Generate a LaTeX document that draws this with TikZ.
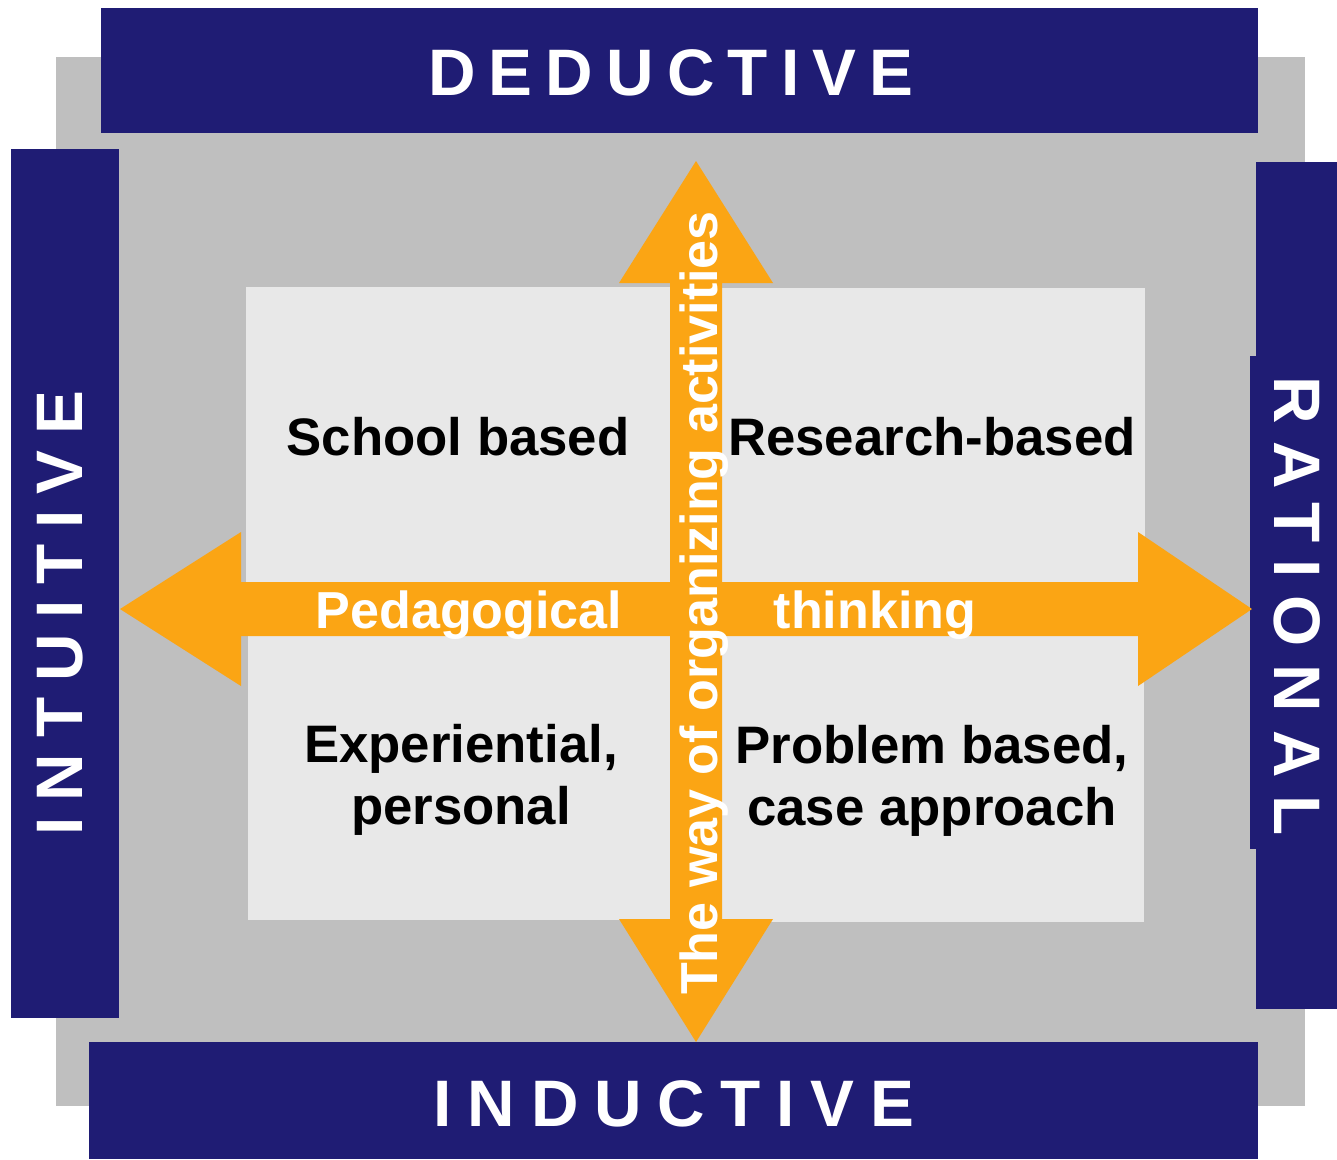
\documentclass[tikz,border=0pt]{standalone}
\usepackage{fontspec}
\setmainfont{Liberation Sans}
\newfontfamily\spacedfont[LetterSpace=24]{Liberation Sans}
\definecolor{navy}{RGB}{31,28,116}
\definecolor{bggrey}{RGB}{191,191,191}
\definecolor{boxgrey}{RGB}{232,232,232}
\definecolor{orng}{RGB}{251,165,20}

\begin{document}
\begin{tikzpicture}[x=0.01cm, y=-0.01cm,
  bar/.style={fill=navy},
  quad/.style={fill=boxgrey},
  arrowfill/.style={fill=orng},
  barlabel/.style={text=white, inner sep=0pt, anchor=base,
    font=\spacedfont\bfseries\fontsize{18.7pt}{22pt}\selectfont},
  quadlabel/.style={text=black, inner sep=0pt, align=center,
    font=\bfseries\fontsize{15pt}{17.6pt}\selectfont},
  axislabel/.style={text=white, inner sep=0pt, anchor=base,
    font=\bfseries\fontsize{14.8pt}{17.6pt}\selectfont}]

\useasboundingbox (0,0) rectangle (1337,1159);

% background
\fill[bggrey] (56,57) rectangle (1305,1106);

% the four poles
\fill[bar] (101,8) rectangle (1258,133);
\fill[bar] (11,149) rectangle (119,1018);
\fill[bar] (89,1042) rectangle (1258,1159);
\fill[bar] (1256,162) rectangle (1337,1009);
\fill[bar] (1250,356) rectangle (1337,849);

% quadrants
\fill[quad] (246,287) rectangle (670,582);
\fill[quad] (722,288) rectangle (1145,582);
\fill[quad] (248,636) rectangle (670,920);
\fill[quad] (722,636) rectangle (1144,922);

% the cross of arrows
\fill[arrowfill] (696,161) -- (773,283) -- (722,283) -- (722,919) -- (773,919)
  -- (696,1042) -- (619,919) -- (670,919) -- (670,283) -- (619,283) -- cycle;
\fill[arrowfill] (120,609) -- (241,532) -- (241,582) -- (1138,582) -- (1138,532)
  -- (1252,609) -- (1138,686) -- (1138,636) -- (241,636) -- (241,686) -- cycle;

% pole labels
\node[barlabel] (deductive) at (671,95) {\addfontfeature{LetterSpace=20}DEDUCTIVE};
\node[barlabel] (inductive) at (674,1126) {INDUCTIVE};
\node[barlabel, rotate=90] (intuitive) at (82,613) {INTUITIVE};
\node[barlabel, rotate=-90] (rational) at (1274,606) {\addfontfeature{LetterSpace=27}RATIONAL};

% quadrant labels
\node[quadlabel, anchor=base] (school) at (458,455) {School based};
\node[quadlabel, anchor=base] (research) at (932,455) {Research-based};
\node[quadlabel] (experiential) at (461,780) {Experiential,\\personal};
\node[quadlabel] (problem) at (932,781) {Problem based,\\case approach};

% axis labels
\node[axislabel] (pedagogical) at (469,628) {Pedagogical};
\node[axislabel] (thinking) at (875,628) {thinking};
\node[axislabel, rotate=90] (organizing) at (717,603) {The way of organizing activities};

\end{tikzpicture}
\end{document}
